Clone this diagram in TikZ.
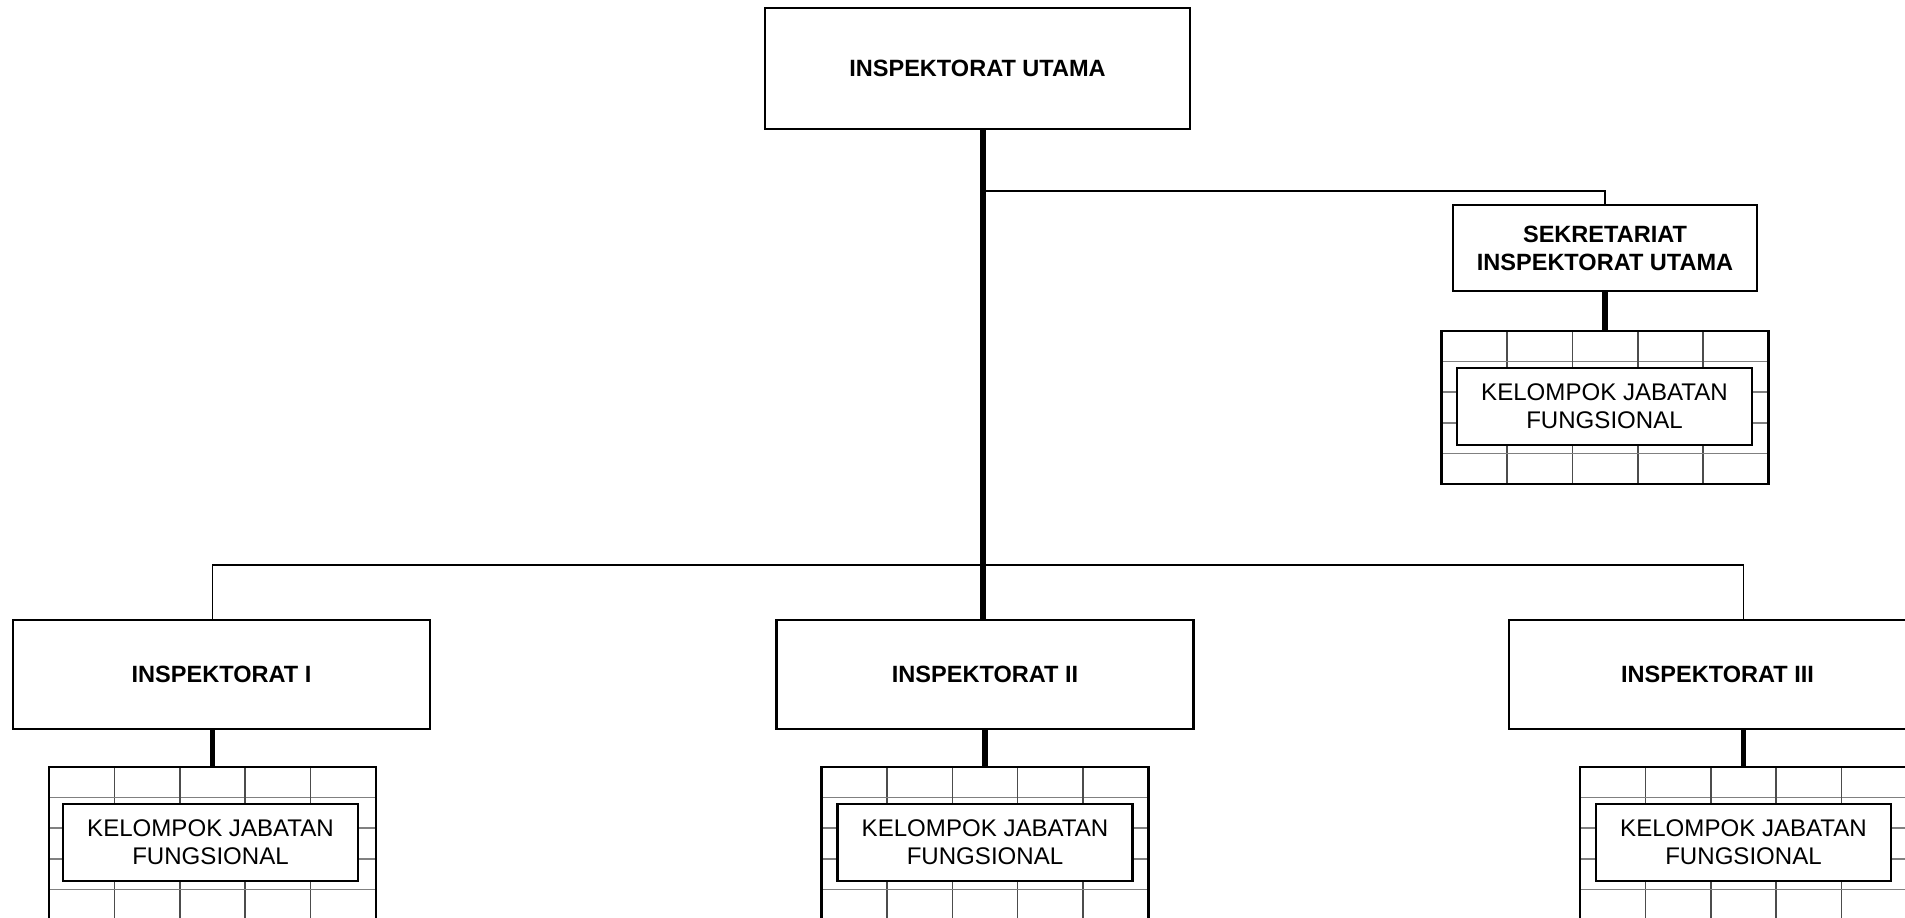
\documentclass[tikz,border=0pt]{standalone}
\usepackage{fontspec}
\setmainfont{Liberation Sans}
\usetikzlibrary{calc}

\begin{document}
\begin{tikzpicture}[
        x=0.02cm, y=-0.02cm,
        every node/.style = {
            align=center,
            inner sep=0pt,
            font=\fontsize{13.7}{16}\selectfont
        },
        unit/.style = {draw=black, line width=1.3pt, fill=white, font=\fontsize{13.4}{16}\selectfont\bfseries},
        head/.style = {unit, minimum width=8.5cm, minimum height=2.42cm},
        sub/.style = {unit, minimum width=6.08cm, minimum height=1.72cm},
        wilayah/.style = {unit, minimum width=8.34cm, minimum height=2.18cm},
        cellbox/.style = {draw=black, line width=1.3pt, minimum width=6.54cm, minimum height=3.06cm,
            path picture={
                \foreach \i in {1,...,4} {
                    \draw[black!70, line width=0.9pt]
                        ($(path picture bounding box.north west)!{\i/5}!(path picture bounding box.north east)$) --
                        ($(path picture bounding box.south west)!{\i/5}!(path picture bounding box.south east)$);
                    \draw[black!50, line width=0.9pt]
                        ($(path picture bounding box.north west)!{\i/5}!(path picture bounding box.south west)$) --
                        ($(path picture bounding box.north east)!{\i/5}!(path picture bounding box.south east)$);
                }
            }},
        jafung/.style = {draw=black, line width=1.3pt, fill=white, minimum width=5.9cm, minimum height=1.54cm},
        trunk/.style = {line width=3pt},
        link/.style = {line width=1.1pt},
        stem/.style = {line width=3pt}
    ]

    \useasboundingbox (0,0) rectangle (1905,918);

    % Pimpinan
    \node[head] (utama) at (977.5, 68.5) {INSPEKTORAT UTAMA};

    % Sekretariat
    \node[sub] (sekre) at (1605, 248) {SEKRETARIAT\\INSPEKTORAT UTAMA};
    \node[cellbox] (gridS) at (1605, 407.5) {};
    \node[jafung] (jfS) at (1604.5, 406.5) {KELOMPOK JABATAN\\FUNGSIONAL};

    % Inspektorat wilayah
    \node[wilayah] (insp1) at (221.5, 674.5) {INSPEKTORAT I};
    \node[wilayah] (insp2) at (985, 674.5) {INSPEKTORAT II};
    \node[wilayah] (insp3) at (1717.5, 674.5) {INSPEKTORAT III};

    \node[cellbox] (grid1) at (212.5, 843.5) {};
    \node[cellbox] (grid2) at (985, 843.5) {};
    \node[cellbox] (grid3) at (1743.5, 843.5) {};
    \node[jafung] (jf1) at (210.5, 842.5) {KELOMPOK JABATAN\\FUNGSIONAL};
    \node[jafung] (jf2) at (985, 842.5) {KELOMPOK JABATAN\\FUNGSIONAL};
    \node[jafung] (jf3) at (1743.5, 842.5) {KELOMPOK JABATAN\\FUNGSIONAL};

    % Garis komando
    \coordinate (jS) at (983, 191);
    \coordinate (jB) at (983, 565);
    \draw[trunk] (utama.south -| jS) -- (insp2.north -| jS);
    \draw[link] (jS) -| (sekre.north -| gridS.north);
    \draw[link] (grid1.north |- insp1.north) |- (jB) -| (grid3.north |- insp3.north);

    \foreach \n in {1,2,3}
        \draw[stem] (insp\n.south -| grid\n.north) -- (grid\n.north);
    \draw[stem] (sekre.south -| gridS.north) -- (gridS.north);

\end{tikzpicture}
\end{document}
